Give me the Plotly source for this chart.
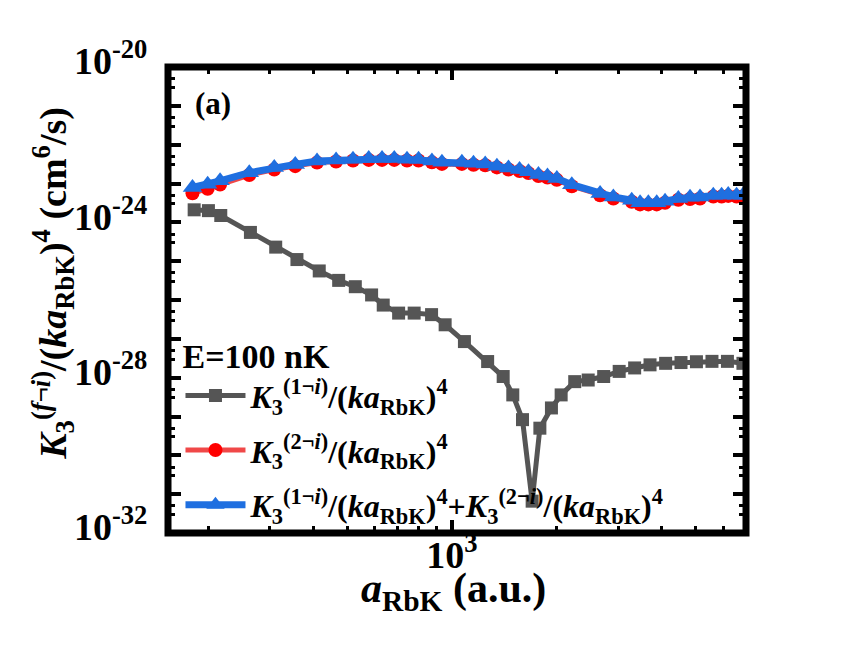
"""K3 rate vs a_RbK, panel (a)"""

import plotly.graph_objects as go

# K3(1->i)/(k a)^4, gray squares
a_one = [182, 200, 217, 264, 312, 359, 416, 473, 528, 588, 635, 703, 779, 874, 956,
         1086, 1266, 1403, 1495, 1594, 1699, 1788, 1930, 2058, 2251, 2461, 2726, 3020,
         3345, 3703, 4105, 4544, 5032, 5576, 6176, 6842]
k_one = [2.1e-24, 2.0e-24, 1.5e-24, 5.5e-25, 2.3e-25, 1.1e-25, 5.6e-26, 3.2e-26, 2.2e-26,
         1.35e-26, 7.4e-27, 4.6e-27, 4.6e-27, 4.2e-27, 2.3e-27, 8.5e-28, 2.6e-28, 1.07e-28,
         3.6e-29, 8.3e-30, 6.6e-32, 5.0e-30, 1.66e-29, 3.6e-29, 7.9e-29, 8.7e-29, 1.07e-28,
         1.45e-28, 1.78e-28, 2.14e-28, 2.34e-28, 2.45e-28, 2.57e-28, 2.63e-28, 2.63e-28, 2.34e-28]

# shared grid for the 2->i and total curves
a_top = [180, 199, 216, 262, 309, 355, 410, 465, 520, 577, 630, 683, 743, 802, 876, 936,
         1068, 1153, 1246, 1346, 1453, 1563, 1658, 1771, 1880, 2000, 2208, 2662, 2906,
         3281, 3467, 3662, 3870, 4089, 4465, 4823, 5152, 5625, 5943, 6209, 6561, 6842]
# K3(2->i)/(k a)^4, red circles
k_two = [5.6e-24, 7.3e-24, 9.4e-24, 1.65e-23, 2.3e-23, 2.8e-23, 3.45e-23, 3.7e-23, 3.9e-23,
         4.05e-23, 4.05e-23, 4.05e-23, 3.9e-23, 3.9e-23, 3.5e-23, 3.2e-23, 3.2e-23, 3.05e-23,
         2.95e-23, 2.6e-23, 2.3e-23, 2.1e-23, 1.85e-23, 1.55e-23, 1.42e-23, 1.24e-23, 8.5e-24,
         5.0e-24, 4.1e-24, 3.4e-24, 2.9e-24, 2.9e-24, 2.9e-24, 3.2e-24, 3.8e-24, 4.0e-24,
         4.1e-24, 4.6e-24, 4.6e-24, 4.8e-24, 4.6e-24, 4.6e-24]
# sum of both, blue triangles
k_sum = [7.9e-24, 9.5e-24, 1.17e-23, 1.9e-23, 2.57e-23, 3.1e-23, 3.8e-23, 4.0e-23, 4.2e-23,
         4.4e-23, 4.4e-23, 4.4e-23, 4.2e-23, 4.2e-23, 3.8e-23, 3.5e-23, 3.5e-23, 3.3e-23,
         3.2e-23, 2.8e-23, 2.5e-23, 2.3e-23, 2.0e-23, 1.7e-23, 1.55e-23, 1.35e-23, 9.3e-24,
         5.5e-24, 4.5e-24, 3.7e-24, 3.2e-24, 3.2e-24, 3.2e-24, 3.5e-24, 4.1e-24, 4.4e-24,
         4.5e-24, 5.0e-24, 5.0e-24, 5.2e-24, 5.0e-24, 5.0e-24]

x_major = [1000]
x_major_text = ["10<sup>3</sup>"]
x_minor = [200, 300, 400, 500, 600, 700, 800, 900, 2000, 3000, 4000, 5000, 6000]
y_exps = list(range(-32, -19))
y_labelled = [-32, -28, -24, -20]

FONT = "Liberation Serif"
lab1 = "<i>K</i><sub>3</sub><sup>(1¬<i>i</i>)</sup>/(<i>ka</i><sub>RbK</sub>)<sup>4</sup>"
lab2 = "<i>K</i><sub>3</sub><sup>(2¬<i>i</i>)</sup>/(<i>ka</i><sub>RbK</sub>)<sup>4</sup>"

fig = go.Figure()
fig.add_trace(go.Scatter(
    x=a_one, y=k_one, mode="lines+markers", name=lab1, legendgroup="g1",
    line=dict(color="#555555", width=5),
    marker=dict(symbol="square", size=13, color="#555555"),
))
fig.add_trace(go.Scatter(
    x=a_top, y=k_two, mode="lines+markers", name=lab2, legendgroup="g2",
    line=dict(color="#f04848", width=5),
    marker=dict(symbol="circle", size=14, color="#ff0000"),
))
fig.add_trace(go.Scatter(
    x=a_top, y=k_sum, mode="lines+markers", name=lab1 + "+" + lab2, legendgroup="g3",
    line=dict(color="#1f6fe0", width=7),
    marker=dict(symbol="triangle-up", size=17, color="#1f6fe0"),
))

# screen coords (page has an 8px body margin)
OFF = 8
SW, SH = 850, 651
L, R, T, B = 167.5, 746.5, 66.5, 533.5   # frame line centres
pw, ph = R - L, B - T


def px(x):
    return (x - L) / pw


def py(y):
    return (B - y) / ph


def txt(size):
    return dict(family=FONT, size=size, color="black", weight="bold")


fig.update_xaxes(
    type="log", range=[2.185, 3.844], showgrid=False, zeroline=False,
    showline=True, linewidth=1, linecolor="black", mirror="ticks",
    ticks="inside", ticklen=13, tickwidth=4, tickcolor="black",
    tickmode="array", tickvals=x_major, ticktext=x_major_text,
    tickfont=txt(38), ticklabelstandoff=-12, automargin=False,
    minor=dict(tickmode="array", tickvals=x_minor, ticks="inside",
               ticklen=7, tickwidth=3, tickcolor="black", showgrid=False),
)
fig.update_yaxes(
    type="log", range=[-32, -20], showgrid=False, zeroline=False,
    showline=True, linewidth=1, linecolor="black", mirror="ticks",
    ticks="inside", ticklen=13, tickwidth=4, tickcolor="black",
    tickmode="array", tickvals=[10.0 ** e for e in y_exps],
    ticktext=[f"10<sup>{e}</sup>" if e in y_labelled else "" for e in y_exps],
    tickfont=txt(38), ticklabelstandoff=12, ticklabelshift=-6, automargin=False,
    minor=dict(tickmode="array",
               tickvals=[m * 10.0 ** e for e in y_exps[1:] for m in (0.3, 0.5)],
               ticks="inside", ticklen=7, tickwidth=3, tickcolor="black", showgrid=False),
)

fig.update_layout(
    width=SW - OFF, height=SH - OFF,
    margin=dict(l=L - OFF, r=SW - R, t=T - OFF, b=SH - B, pad=0),
    paper_bgcolor="white", plot_bgcolor="white",
    font=dict(family=FONT, color="black", weight="bold"),
    showlegend=True,
    legend=dict(
        x=px(180), y=py(324), xanchor="left", yanchor="top",
        bgcolor="rgba(0,0,0,0)", borderwidth=0,
        font=txt(32),
        title=dict(text="E=100 nK", side="top", font=txt(34)),
        traceorder="grouped", tracegroupgap=10, itemwidth=60,
    ),
    shapes=[dict(type="rect", xref="paper", yref="paper", x0=0, x1=1, y0=0, y1=1,
                 line=dict(color="black", width=7), layer="above")],
    annotations=[
        dict(text="(a)", x=px(213), y=py(103), xref="paper", yref="paper",
             xanchor="center", yanchor="middle", showarrow=False, font=txt(31)),
        dict(text="<i>a</i><sub>RbK</sub> (a.u.)", x=px(453), y=py(592),
             xref="paper", yref="paper", xanchor="center", yanchor="middle",
             showarrow=False, font=txt(42)),
        dict(text="<i>K</i><sub>3</sub><sup>(<i>f</i>¬<i>i</i>)</sup>/(<i>ka</i><sub>RbK</sub>)"
                  "<sup>4</sup> (cm<sup>6</sup>/s)",
             x=px(52), y=py(283), xref="paper", yref="paper", textangle=-90,
             xanchor="center", yanchor="middle", showarrow=False, font=txt(38)),
    ],
)

fig.write_html("out.html")
